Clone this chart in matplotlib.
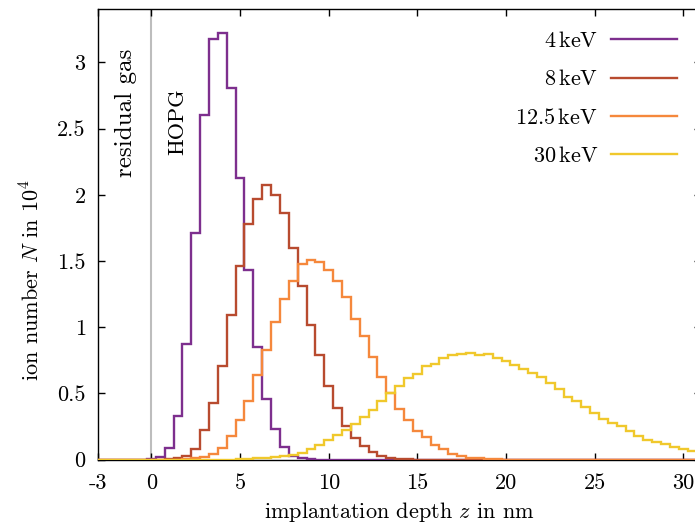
import numpy as np
import matplotlib
matplotlib.use("Agg")
import matplotlib.pyplot as plt

plt.rcParams['font.family'] = ['cmr10', 'DejaVu Serif']
plt.rcParams['mathtext.fontset'] = 'cm'
plt.rcParams['axes.formatter.use_mathtext'] = True

# ---- data (bin width 0.5 nm, values = first bin centre + heights in 10^4) ----
bin_width = 0.5
z_range = (-3.0, 31.0)

start_4 = 0.0
n_4keV = [0.005, 0.02, 0.085, 0.33, 0.87, 1.71, 2.60, 3.18, 3.225, 2.81, 2.13,
          1.43, 0.85, 0.46, 0.23, 0.093, 0.03, 0.012, 0.004]

start_8 = 1.0
n_8keV = [0.003, 0.01, 0.025, 0.08, 0.22, 0.43, 0.71, 1.09, 1.46, 1.78, 1.965,
          2.075, 2.00, 1.86, 1.60, 1.31, 1.02, 0.79, 0.555, 0.39, 0.25, 0.165,
          0.10, 0.055, 0.025, 0.013, 0.005, 0.002]

start_12 = 2.0
n_12keV = [0.003, 0.008, 0.018, 0.04, 0.09, 0.175, 0.295, 0.44, 0.635, 0.83,
           1.04, 1.21, 1.35, 1.48, 1.51, 1.495, 1.435, 1.35, 1.23, 1.065, 0.93,
           0.775, 0.62, 0.50, 0.38, 0.295, 0.215, 0.17, 0.108, 0.076, 0.045,
           0.025, 0.013, 0.008, 0.004, 0.002]

start_30 = 5.0
n_30keV = [0.003, 0.005, 0.008, 0.012, 0.018, 0.026, 0.037, 0.052, 0.08, 0.11,
           0.15, 0.187, 0.225, 0.27, 0.32, 0.375, 0.44, 0.50, 0.555, 0.617,
           0.65, 0.703, 0.725, 0.77, 0.79, 0.80, 0.805, 0.787, 0.795, 0.77,
           0.748, 0.717, 0.685, 0.655, 0.62, 0.577, 0.53, 0.47, 0.44, 0.40,
           0.35, 0.31, 0.275, 0.25, 0.215, 0.18, 0.15, 0.136, 0.118, 0.098,
           0.08, 0.068, 0.055]

labels = [r'$4\,\mathrm{keV}$', r'$8\,\mathrm{keV}$',
          r'$12.5\,\mathrm{keV}$', r'$30\,\mathrm{keV}$']
colors = ['#7d2f8e', '#b84b2f', '#f5883c', '#f0c82c']

x_ticks = [-3, 0, 5, 10, 15, 20, 25, 30]
x_ticklabels = ['-3', '0', '5', '10', '15', '20', '25', '30']
y_ticks = [0, 0.5, 1, 1.5, 2, 2.5, 3]
y_ticklabels = ['0', '0.5', '1', '1.5', '2', '2.5', '3']

# ---- figure ----
fig = plt.figure(figsize=(6.95, 5.27), dpi=100)
ax = fig.add_axes([0.1413, 0.128, 0.8673, 0.854])

centres = np.arange(z_range[0], z_range[1] + bin_width / 2, bin_width)
edges = np.append(centres - bin_width / 2, centres[-1] + bin_width / 2)


def full_series(start, vals):
    out = np.zeros_like(centres)
    i0 = int(round((start - z_range[0]) / bin_width))
    out[i0:i0 + len(vals)] = vals
    return out


series = [(start_4, n_4keV), (start_8, n_8keV), (start_12, n_12keV),
          (start_30, n_30keV)]

ax.axvline(0, color='#bdbdbd', lw=1.5, zorder=1)

for (s, v), lab, c in zip(series, labels, colors):
    ax.stairs(full_series(s, v), edges, baseline=None, color=c, lw=1.7,
              label=lab, zorder=3)

ax.set_xlim(-3, 31)
ax.set_ylim(0, 3.4)
ax.set_xticks(x_ticks)
ax.set_xticklabels(x_ticklabels)
ax.set_yticks(y_ticks)
ax.set_yticklabels(y_ticklabels)
ax.tick_params(direction='in', length=5, width=1, labelsize=16,
               top=True, right=True)
ax.tick_params(axis='x', pad=10)
ax.tick_params(axis='y', pad=9)
for sp in ax.spines.values():
    sp.set_linewidth(1.0)

ax.set_xlabel(r'implantation depth $z$ in nm', fontsize=16, labelpad=5)
ax.set_ylabel(r'ion number $N$ in $10^4$', fontsize=16)
ax.yaxis.set_label_coords(-0.091, 0.40)

ax.text(-1.43, 2.62, 'residual gas', rotation=90, ha='center', va='center',
        fontsize=18)
ax.text(1.5, 2.55, 'HOPG', rotation=90, ha='center', va='center',
        fontsize=16)

leg = ax.legend(loc='upper right', bbox_to_anchor=(0.960, 0.952),
                markerfirst=False, frameon=False, fontsize=16,
                handlelength=2.95, handletextpad=0.6, labelspacing=0.82,
                borderpad=0, borderaxespad=0)

fig.savefig('out.png', dpi=100)
